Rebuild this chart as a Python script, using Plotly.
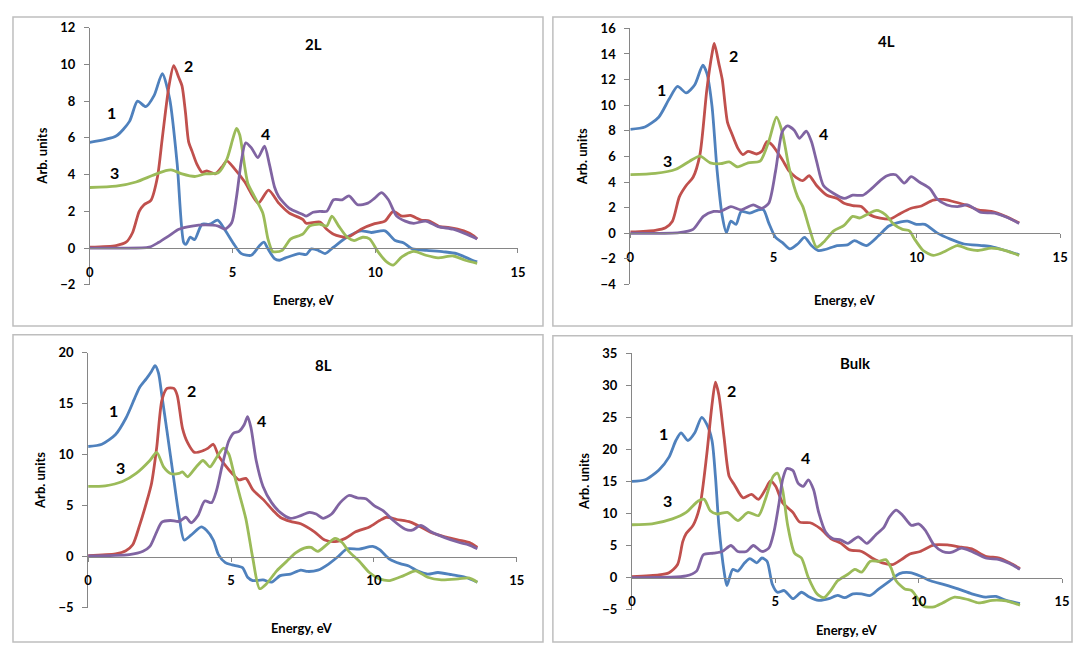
import plotly.graph_objects as go

W, H = 1089, 659          # browser window
OFF = 8                   # default page (body) margin around the figure
PW, PH = W - 2 * OFF, H - 2 * OFF

# ---------------- data ----------------
# Panel "2L"
x_2L_1 = [0,0.92,1.39,1.67,1.96,2.25,2.54,2.8,3.06,3.29,3.37,3.52,3.67,3.93,4.2,4.48,4.73,5.08,5.31,5.66,5.95,6.1,6.24,6.47,6.64,6.86,7.34,7.58,7.76,8.0,8.24,8.54,9.0,9.5,9.86,10.34,10.7,11.0,11.3,11.8,12.4,12.85,13.4,13.57]
y_2L_1 = [5.76,6.1,6.9,8.0,7.7,8.3,9.5,8.1,4.6,0.3,0.2,0.6,0.46,1.3,1.3,1.52,1.0,0.14,-0.3,-0.39,0.14,0.32,-0.04,-0.57,-0.66,-0.53,-0.3,-0.35,-0.04,-0.12,-0.3,0.05,0.59,0.94,0.85,0.94,0.41,0.28,-0.04,-0.12,-0.2,-0.3,-0.66,-0.75]
x_2L_2 = [0,0.92,1.27,1.5,1.73,1.9,2.14,2.37,2.54,2.77,2.94,3.12,3.23,3.35,3.46,3.58,3.75,3.93,4.1,4.39,4.62,4.8,5.08,5.43,5.9,6.26,6.62,6.98,7.46,7.58,8.06,8.3,8.54,9.02,9.5,9.98,10.34,10.63,10.93,11.23,11.6,11.9,12.25,12.6,13.1,13.45,13.57]
y_2L_2 = [0.05,0.14,0.32,0.85,2.0,2.36,2.6,3.87,6.0,8.8,9.93,9.27,8.83,7.4,5.8,5.28,4.57,4.13,4.2,4.04,4.4,4.75,4.3,3.6,2.45,3.16,2.45,1.92,1.56,1.35,1.42,1.03,0.76,0.59,1.03,1.33,1.47,2.0,1.74,1.78,1.53,1.47,1.17,1.12,0.94,0.67,0.5]
x_2L_3 = [0,0.92,1.62,2.19,2.66,2.89,3.23,3.7,4.04,4.5,4.8,5.02,5.14,5.25,5.43,5.54,5.77,6.06,6.24,6.4,6.5,6.74,7.04,7.46,7.7,8.06,8.3,8.48,8.72,9.02,9.26,9.56,9.8,10.1,10.4,10.63,10.93,11.35,11.77,12.2,12.73,13.15,13.57]
y_2L_3 = [3.3,3.37,3.6,3.95,4.22,4.25,4.04,3.9,4.04,4.1,4.84,6.0,6.52,6.17,4.4,3.5,2.8,1.91,0.5,-0.18,-0.21,-0.12,0.5,0.76,1.2,1.3,1.2,1.74,1.2,0.59,0.41,0.59,0.5,-0.21,-0.75,-0.92,-0.48,-0.18,-0.39,-0.53,-0.43,-0.66,-0.83]
x_2L_4 = [0,1.0,2.08,2.42,2.77,3.12,3.58,4.04,4.5,4.73,4.97,5.14,5.31,5.46,5.66,5.89,6.12,6.29,6.47,6.62,6.98,7.46,7.58,7.82,8.06,8.3,8.54,8.84,9.08,9.38,9.74,9.98,10.22,10.46,10.75,11.05,11.35,11.77,12.2,12.73,13.2,13.57]
y_2L_4 = [0,0,0.05,0.32,0.67,1.03,1.2,1.26,1.2,1.03,1.38,2.8,4.75,5.73,5.46,4.93,5.55,4.57,3.33,2.8,2.18,1.83,1.74,1.95,2.0,2.0,2.63,2.63,2.84,2.36,2.45,2.72,3.02,2.63,1.74,1.47,1.35,1.47,1.17,1.03,0.76,0.5]

# Panel "4L"
x_4L_1 = [0,0.51,0.99,1.35,1.65,1.95,2.25,2.53,2.67,2.85,3.03,3.21,3.35,3.51,3.69,3.87,4.17,4.47,4.65,4.83,5.07,5.3,5.57,5.84,6.08,6.32,6.56,6.8,7.22,7.58,7.82,8.24,8.66,9.02,9.44,9.68,9.98,10.28,10.69,11.17,11.65,12.25,12.6,13.09,13.57]
y_4L_1 = [8.12,8.3,9.06,10.46,11.47,10.96,11.6,13.12,12.5,9.95,4.87,1.32,0.05,0.94,0.69,1.7,1.57,1.83,1.83,0.81,-0.33,-0.71,-1.22,-0.84,-0.33,-0.96,-1.35,-1.27,-0.96,-0.91,-0.58,-0.96,-0.2,0.56,0.89,0.94,0.69,0.69,0.05,-0.46,-0.84,-0.96,-1.04,-1.35,-1.68]
x_4L_2 = [0,0.87,1.23,1.47,1.71,1.95,2.19,2.43,2.67,2.85,2.93,3.09,3.21,3.39,3.54,3.75,3.93,4.11,4.41,4.59,4.77,4.95,5.3,5.54,5.78,6.02,6.24,6.5,6.86,7.22,7.46,7.76,8.06,8.36,8.72,9.08,9.44,9.8,10.16,10.57,10.93,11.29,11.71,12.13,12.6,13.09,13.57]
y_4L_2 = [0.1,0.23,0.43,0.94,2.84,3.73,4.37,6.14,11.2,14.0,14.82,13.25,11.98,8.68,7.79,6.65,6.14,6.4,6.19,6.4,7.16,6.9,5.76,4.87,4.37,4.11,4.49,3.73,2.97,2.72,2.34,2.16,2.08,1.45,1.19,1.12,1.57,1.95,2.13,2.59,2.64,2.46,2.21,1.83,1.7,1.32,0.81]
x_4L_3 = [0,0.87,1.59,2.07,2.43,2.79,3.15,3.45,3.75,4.11,4.53,4.83,5.1,5.3,5.54,5.84,6.02,6.26,6.5,6.74,7.1,7.46,7.76,8.0,8.24,8.6,8.9,9.2,9.5,9.74,9.92,10.22,10.57,10.93,11.41,11.77,12.13,12.6,13.09,13.57]
y_4L_3 = [4.57,4.67,5.0,5.63,6.02,5.5,5.43,5.58,5.18,5.5,5.63,7.16,9.06,7.92,5.13,2.84,2.08,0.3,-1.09,-0.71,0.18,0.61,1.32,1.19,1.45,1.78,1.45,0.69,0.3,0.18,-0.46,-1.35,-1.73,-1.47,-0.96,-1.22,-1.35,-1.17,-1.35,-1.73]
x_4L_4 = [0,1.71,2.19,2.55,2.91,3.15,3.51,3.87,4.29,4.59,4.83,5.07,5.3,5.48,5.72,5.9,6.14,6.32,6.5,6.74,7.1,7.46,7.76,8.12,8.42,8.72,8.96,9.26,9.56,9.8,10.1,10.46,10.69,11.05,11.41,11.77,12.25,12.72,13.2,13.57]
y_4L_4 = [0,0.05,0.3,1.32,1.7,1.7,2.08,1.83,2.21,1.95,2.34,4.87,7.92,8.38,8.05,7.41,7.97,7.16,5.63,3.73,3.1,2.72,2.97,2.97,3.48,4.11,4.49,4.57,3.91,4.42,3.98,3.48,2.72,2.21,2.08,2.21,1.62,1.57,1.19,0.76]

# Panel "8L"
x_8L_1 = [0,0.48,0.96,1.32,1.62,1.8,2.04,2.22,2.34,2.46,2.58,2.76,3.0,3.18,3.36,3.6,3.96,4.14,4.38,4.56,4.8,5.04,5.4,5.58,5.76,6.12,6.42,6.72,7.08,7.44,7.68,8.04,8.4,8.76,9.06,9.48,9.96,10.2,10.56,10.92,11.22,11.52,11.88,12.24,12.72,13.2,13.62]
y_8L_1 = [10.81,11.03,11.99,13.58,15.48,16.6,17.46,18.19,18.73,18.03,15.8,12.3,7.54,4.04,1.65,2.13,2.93,2.6,1.65,0.22,-0.57,-0.79,-1.05,-2.0,-2.32,-2.26,-2.48,-1.84,-1.69,-1.3,-1.43,-1.3,-0.73,0.06,0.79,0.76,1.02,0.7,-0.25,-0.67,-0.89,-1.37,-1.69,-1.53,-1.75,-2.0,-2.48]
x_8L_2 = [0,0.96,1.32,1.56,1.8,2.04,2.22,2.4,2.58,2.76,3.0,3.12,3.3,3.48,3.72,4.02,4.2,4.38,4.56,4.8,5.04,5.28,5.52,5.76,6.12,6.48,6.72,7.08,7.44,7.92,8.28,8.64,9.0,9.36,9.84,10.2,10.44,10.8,11.28,11.64,12.0,12.48,12.96,13.39,13.62]
y_8L_2 = [0.13,0.29,0.6,1.18,3.08,5.31,7.22,10.72,15.33,16.5,16.5,15.8,12.62,11.19,10.24,10.4,10.65,11.03,9.92,8.97,8.17,7.54,7.69,6.58,5.63,4.52,3.88,3.47,3.24,2.45,1.65,1.49,1.81,2.45,2.93,3.56,3.88,3.66,3.4,2.93,2.38,1.97,1.65,1.34,0.92]
x_8L_3 = [0,0.6,1.2,1.68,2.16,2.4,2.64,2.88,3.18,3.3,3.48,3.78,4.02,4.26,4.5,4.74,4.92,5.1,5.28,5.52,5.76,6.0,6.24,6.6,6.96,7.26,7.56,7.8,8.04,8.34,8.64,8.88,9.12,9.48,9.84,10.2,10.56,11.04,11.46,11.88,12.36,12.96,13.32,13.62]
y_8L_3 = [6.9,6.96,7.38,8.17,9.44,10.24,8.81,8.17,8.17,8.33,7.85,8.81,9.44,8.81,9.76,10.65,10.08,8.17,6.26,3.72,-0.1,-3.12,-2.64,-1.37,-0.41,0.38,0.86,0.92,0.54,1.18,1.81,1.43,0.54,-0.41,-1.53,-2.16,-2.32,-1.84,-1.37,-2.0,-2.26,-2.16,-2.07,-2.48]
x_8L_4 = [0,1.44,1.92,2.16,2.4,2.58,2.88,3.18,3.42,3.6,3.84,4.08,4.32,4.5,4.68,4.92,5.1,5.28,5.46,5.58,5.7,5.88,6.12,6.42,6.72,7.08,7.44,7.74,7.98,8.22,8.52,8.82,9.12,9.42,9.72,10.02,10.32,10.68,11.1,11.34,11.64,12.0,12.48,12.96,13.32,13.62]
y_8L_4 = [0.1,0.22,0.54,1.02,2.45,3.4,3.56,3.47,3.88,3.34,4.04,5.47,5.31,6.58,8.81,11.35,12.15,12.3,12.94,13.74,12.62,9.44,6.9,5.31,4.36,3.78,4.04,4.36,4.2,3.78,4.2,5.31,6.01,5.79,5.69,4.99,4.52,3.56,2.7,2.61,3.08,2.45,1.88,1.43,1.18,0.79]

# Panel "Bulk"
x_B_1 = [0,0.46,0.94,1.29,1.53,1.71,1.95,2.19,2.43,2.61,2.79,2.91,3.03,3.21,3.31,3.51,3.69,3.93,4.11,4.35,4.53,4.71,4.89,5.07,5.31,5.61,5.91,6.15,6.51,6.87,7.17,7.41,7.71,8.0,8.31,8.61,8.97,9.33,9.69,10.05,10.41,10.89,11.37,11.85,12.33,12.69,13.05,13.53]
y_B_1 = [15.0,15.26,16.8,18.8,21.4,22.6,21.4,22.6,25.0,23.9,21.4,15.8,8.14,1.0,-1.27,1.27,1.0,2.3,2.95,2.3,3.05,2.54,-1.0,-2.3,-2.03,-3.3,-2.3,-2.95,-3.56,-3.3,-2.8,-3.15,-2.54,-2.54,-2.8,-1.78,-0.61,0.61,0.76,0.25,-0.51,-1.12,-1.78,-2.54,-3.05,-2.95,-3.56,-4.07]
x_B_2 = [0,0.94,1.29,1.59,1.77,1.89,2.13,2.37,2.61,2.79,2.91,3.03,3.21,3.39,3.57,3.87,4.17,4.41,4.65,4.83,5.01,5.25,5.61,5.85,6.21,6.57,6.93,7.29,7.59,8.01,8.37,8.73,9.09,9.39,9.69,10.05,10.53,11.0,11.49,11.85,12.33,12.81,13.17,13.53]
y_B_2 = [0.15,0.4,0.76,2.03,5.6,6.87,8.14,11.2,19.3,26.96,30.5,28.5,21.9,15.8,14.5,12.46,12.97,12.2,13.73,15.1,14.24,11.7,10.17,8.65,8.55,7.63,6.1,5.34,4.32,4.07,3.05,2.29,2.03,2.8,3.66,4.07,5.09,5.09,4.73,4.48,3.31,3.05,2.29,1.42]
x_B_3 = [0,0.7,1.41,1.89,2.31,2.52,2.73,2.97,3.33,3.69,4.05,4.41,4.65,4.92,5.07,5.25,5.43,5.67,5.91,6.15,6.45,6.69,6.93,7.17,7.53,7.77,8.01,8.31,8.61,8.85,9.03,9.21,9.51,9.75,9.93,10.17,10.53,10.83,11.25,11.73,12.09,12.57,13.05,13.53]
y_B_3 = [8.24,8.39,9.16,10.17,11.95,12.2,10.43,9.92,10.17,8.9,10.17,9.66,12.2,15.77,16.3,13.73,8.14,3.81,3.05,0.0,-2.54,-3.15,-2.03,-0.51,0.51,1.27,0.86,2.54,2.54,2.8,1.53,-0.51,-1.78,-2.03,-3.05,-4.48,-4.58,-3.97,-3.05,-3.46,-3.97,-3.56,-3.66,-4.32]
x_B_4 = [0,1.89,2.25,2.49,2.85,3.15,3.45,3.69,3.99,4.23,4.53,4.77,4.95,5.13,5.25,5.4,5.61,5.79,5.97,6.15,6.33,6.51,6.75,6.99,7.29,7.53,7.89,8.19,8.49,8.79,8.97,9.21,9.45,9.75,9.99,10.23,10.53,10.83,11.13,11.49,11.85,12.33,12.81,13.17,13.53]
y_B_4 = [0,0.25,1.0,3.56,3.81,4.07,5.0,4.07,4.07,5.0,4.07,4.58,7.12,11.7,15.26,17.04,16.7,14.75,14.24,15.26,13.73,10.17,7.12,6.1,5.85,5.34,6.36,5.34,6.61,7.88,9.41,10.53,9.66,8.14,8.39,7.38,5.09,4.07,3.92,4.58,4.07,3.05,2.8,2.19,1.27]

panel_titles = ["2L", "4L", "8L", "Bulk"]
curve_labels = ["1", "2", "3", "4"]
x_ticks = [0, 5, 10, 15]
y_ranges = [(-2, 12), (-4, 16), (-5, 20), (-5, 35)]
y_dticks = [2, 2, 5, 5]
x_title = "Energy, eV"
y_title = "Arb. units"

series = [
    [(x_2L_1, y_2L_1), (x_2L_2, y_2L_2), (x_2L_3, y_2L_3), (x_2L_4, y_2L_4)],
    [(x_4L_1, y_4L_1), (x_4L_2, y_4L_2), (x_4L_3, y_4L_3), (x_4L_4, y_4L_4)],
    [(x_8L_1, y_8L_1), (x_8L_2, y_8L_2), (x_8L_3, y_8L_3), (x_8L_4, y_8L_4)],
    [(x_B_1, y_B_1), (x_B_2, y_B_2), (x_B_3, y_B_3), (x_B_4, y_B_4)],
]

# ---------------- styling / layout (page-pixel positions) ----------------
colors = ["#4F81BD", "#C0504D", "#9BBB59", "#8064A2"]
FONT = "Lato"

boxes = [(86.7, 519.7, 20.0, 283.7),
         (633.3, 1068.0, 20.7, 283.3),
         (85.0, 518.5, 353.3, 615.0),
         (635.0, 1070.0, 354.0, 616.7)]
frames = [(9, 545, 9, 326), (555, 1080, 9, 326), (9, 545, 335, 650), (555, 1080, 336, 650)]
title_pos = [(313, 37), (892, 34), (323, 366), (861, 364)]
label_pos = [
    [(109, 107), (187, 59), (112, 168), (264, 128)],
    [(665, 83), (738, 48), (671, 156), (829, 128)],
    [(111, 413), (190, 392), (118, 471), (260, 423)],
    [(667, 436), (736, 392), (671, 505), (810, 461)],
]

def fx(px):
    return (px - OFF) / PW

def fy(py):
    return 1 - (py - OFF) / PH

fig = go.Figure()
layout = dict(
    width=PW, height=PH, margin=dict(l=0, r=0, t=0, b=0),
    paper_bgcolor="white", plot_bgcolor="white", showlegend=False,
    font=dict(family=FONT, color="#000000"),
)
annotations = []
shapes = []
tickfont = dict(family=FONT, size=13, weight=700, color="#000000")

for i in range(4):
    k = "" if i == 0 else str(i + 1)
    left, right, top, bot = boxes[i]
    ymin, ymax = y_ranges[i]
    yzero_px = top + (ymax - 0) / (ymax - ymin) * (bot - top)
    layout["xaxis" + k] = dict(
        domain=[fx(left), fx(right)], range=[0, 15], anchor="free",
        position=fy(yzero_px), tickvals=x_ticks, ticks="outside", ticklen=4,
        tickcolor="#868686", showline=True, linecolor="#868686", linewidth=1,
        showgrid=False, zeroline=False, ticklabelstandoff=8,
        tickfont=tickfont,
    )
    layout["yaxis" + k] = dict(
        domain=[fy(bot), fy(top)], range=[ymin, ymax], anchor="x" + k,
        dtick=y_dticks[i], tick0=ymin, ticks="outside", ticklen=5,
        tickcolor="#868686", showline=True, linecolor="#868686", linewidth=1,
        showgrid=False, zeroline=False, ticklabelstandoff=6,
        tickfont=tickfont,
    )
    for j, (xs, ys) in enumerate(series[i]):
        fig.add_trace(go.Scatter(
            x=xs, y=ys, mode="lines", xaxis="x" + k, yaxis="y" + k,
            line=dict(color=colors[j], width=2.8, shape="spline", smoothing=0.7),
            name=curve_labels[j], hoverinfo="skip",
        ))
    l0, r0, t0, b0 = frames[i]
    shapes.append(dict(type="rect", xref="paper", yref="paper",
                       x0=fx(l0), x1=fx(r0), y0=fy(b0), y1=fy(t0),
                       line=dict(color="#BEBEBE", width=1.5), fillcolor="rgba(0,0,0,0)",
                       layer="below"))
    tx, ty = title_pos[i]
    annotations.append(dict(text=panel_titles[i], x=fx(tx), y=fy(ty), xref="paper", yref="paper",
                            showarrow=False, xanchor="center", yanchor="middle",
                            font=dict(family=FONT, size=15, weight=700, color="#000000")))
    for j, (lx, ly) in enumerate(label_pos[i]):
        annotations.append(dict(text=curve_labels[j], x=fx(lx), y=fy(ly), xref="paper", yref="paper",
                                showarrow=False, xanchor="center", yanchor="middle",
                                font=dict(family=FONT, size=16, weight=700, color="#000000")))
    annotations.append(dict(text=x_title, x=fx((left + right) / 2), y=fy(bot + 16 if i < 2 else bot + 21),
                            xref="paper", yref="paper", showarrow=False,
                            xanchor="center", yanchor="middle",
                            font=dict(family=FONT, size=13, weight=700, color="#000000")))
    annotations.append(dict(text=y_title, x=fx(left - 48), y=fy((top + bot) / 2),
                            xref="paper", yref="paper", showarrow=False, textangle=-90,
                            xanchor="center", yanchor="middle",
                            font=dict(family=FONT, size=13, weight=700, color="#000000")))

layout["annotations"] = annotations
layout["shapes"] = shapes
fig.update_layout(**layout)
fig.write_html("out.html")
